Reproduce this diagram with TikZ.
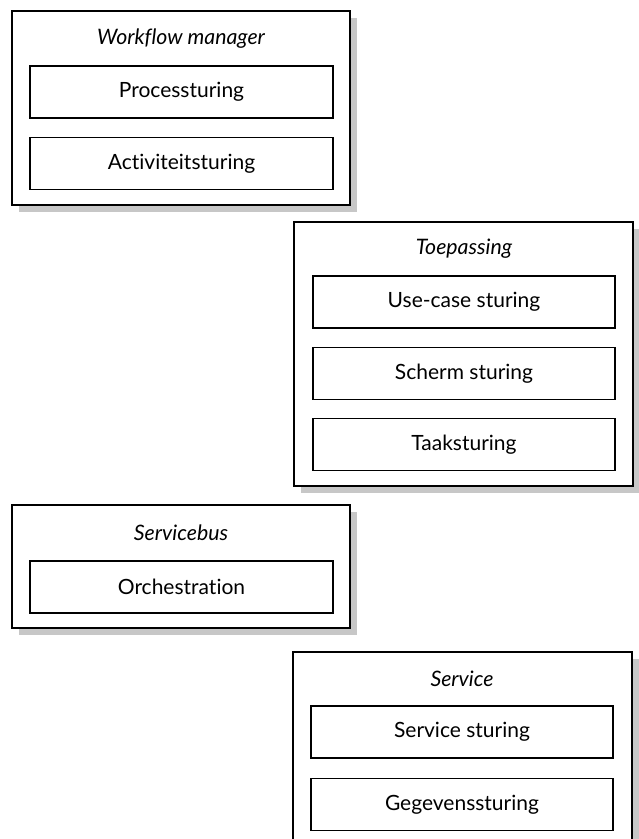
\documentclass[tikz,border=0pt]{standalone}
\usepackage{fontspec}
\setmainfont{Lato}[Ligatures={NoCommon,NoRare}]
\usetikzlibrary{shadows}
\begin{document}
\begin{tikzpicture}[x=1pt,y=-1pt,
  outerbox/.style={draw=black, line width=1.2pt, fill=white, rectangle, inner sep=0pt,
    drop shadow={shadow xshift=7pt, shadow yshift=-7pt, fill=black!22, opacity=1}},
  innerbox/.style={draw=black, line width=1.1pt, fill=white, rectangle, inner sep=0pt,
    minimum height=52pt, font=\fontsize{21}{24}\selectfont},
  titletext/.style={inner sep=0pt, font=\fontsize{21.3}{24}\selectfont\itshape}
]
\useasboundingbox (0,0) rectangle (639,839);
\clip (0,0) rectangle (639,839);

% Workflow manager
\node[outerbox, minimum width=338pt, minimum height=194pt] (wf) at (181,108) {};
\node[titletext] (wft) at (181,39) {Workflow manager};
\node[innerbox, minimum width=303pt] (proc) at (181.5,92) {Processturing};
\node[innerbox, minimum width=303pt] (act) at (181.5,163.5) {Activiteitsturing};

% Toepassing
\node[outerbox, minimum width=339pt, minimum height=264pt] (toe) at (463.5,354) {};
\node[titletext] (toet) at (464,249) {Toepassing};
\node[innerbox, minimum width=302pt] (uc) at (464,302) {Use-case sturing};
\node[innerbox, minimum width=302pt] (sch) at (464,373.5) {Scherm sturing};
\node[innerbox, minimum width=302pt] (taak) at (464,444.5) {Taaksturing};

% Servicebus
\node[outerbox, minimum width=338pt, minimum height=123pt] (sb) at (181,566.5) {};
\node[titletext] (sbt) at (181,533) {Servicebus};
\node[innerbox, minimum width=303pt] (orch) at (181.5,587) {Orchestration};

% Service
\node[outerbox, minimum width=339pt, minimum height=194pt] (svc) at (462.5,749) {};
\node[titletext] (svct) at (462,679) {Service};
\node[innerbox, minimum width=302pt] (ss) at (462,732) {Service sturing};
\node[innerbox, minimum width=302pt] (geg) at (462,804.5) {Gegevenssturing};
\end{tikzpicture}
\end{document}
